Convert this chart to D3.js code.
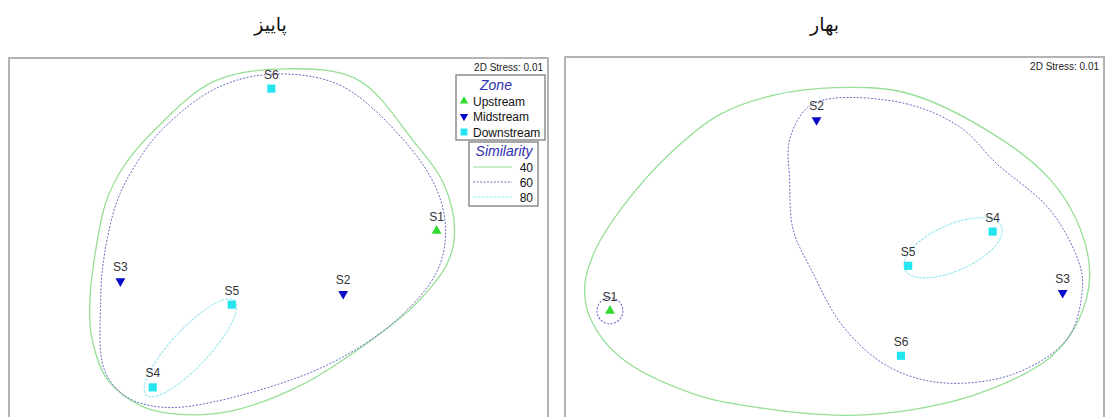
<!DOCTYPE html>
<html>
<head>
<meta charset="utf-8">
<script src="https://cdn.jsdelivr.net/npm/d3@7"></script>
<style>
  body { margin: 0; background: #fff; }
  text { font-family: Arial, "Liberation Sans", sans-serif; }
</style>
</head>
<body>
<script>
// nMDS ordination of six sites, two seasons
let sites = ["S1", "S2", "S3", "S4", "S5", "S6"];
let siteZones = ["Upstream", "Midstream", "Midstream", "Downstream", "Downstream", "Downstream"];
let zoneNames = ["Upstream", "Midstream", "Downstream"];
let similarityLevels = ["40", "60", "80"];
let seasonTitles = ["پاییز", "بهار"];
let stressLabel = "2D Stress: 0.01";

// autumn (پاییز) coordinates
let autumnX = [0.88, 0.36, -0.88, -0.70, -0.26, -0.04];
let autumnY = [0.04, -0.31, -0.24, -0.83, -0.37, 0.83];
// spring (بهار) coordinates
let springX = [-1.25, -0.10, 1.27, 0.88, 0.41, 0.37];
let springY = [-0.41, 0.65, -0.31, 0.03, -0.16, -0.66];

// similarity contours
let autumn40 = [[0.04, 0.94], [0.44, 0.88], [0.75, 0.54], [0.92, 0.30], [0.98, 0.04], [0.94, -0.14],
  [0.76, -0.37], [0.54, -0.55], [0.14, -0.81], [-0.26, -0.96], [-0.55, -0.98], [-0.75, -0.94],
  [-0.95, -0.79], [-1.04, -0.55], [-1.05, -0.36], [-1.03, -0.15], [-0.96, 0.20], [-0.86, 0.40],
  [-0.69, 0.60], [-0.36, 0.87]];
let autumn60 = [[-0.04, 0.91], [0.34, 0.85], [0.70, 0.54], [0.88, 0.27], [0.93, 0.04], [0.88, -0.19],
  [0.64, -0.47], [0.24, -0.72], [-0.36, -0.91], [-0.65, -0.94], [-0.85, -0.88], [-0.97, -0.73],
  [-0.99, -0.36], [-0.97, -0.10], [-0.90, 0.20], [-0.80, 0.40], [-0.65, 0.60], [-0.35, 0.83]];
// ellipses: [cx, cy, rx, ry, angle]
let autumn80 = [[-0.49, -0.61, 0.36, 0.105, -47]];

let spring40 = [[0.01, 0.83], [0.40, 0.80], [0.87, 0.58], [1.20, 0.32], [1.37, 0.04], [1.42, -0.22],
  [1.36, -0.46], [1.20, -0.67], [0.80, -0.87], [0.36, -0.97], [0.01, -0.99], [-0.41, -0.95],
  [-0.79, -0.87], [-1.19, -0.67], [-1.36, -0.45], [-1.39, -0.27], [-1.33, -0.07], [-1.17, 0.18],
  [-0.92, 0.46], [-0.64, 0.68], [-0.33, 0.79]];
let spring60 = [[-0.01, 0.77], [0.40, 0.74], [0.70, 0.61], [0.90, 0.41], [1.20, 0.15], [1.36, -0.14],
  [1.38, -0.28], [1.30, -0.56], [1.00, -0.76], [0.60, -0.81], [0.30, -0.72], [0.05, -0.50],
  [-0.13, -0.18], [-0.23, 0.04], [-0.25, 0.32], [-0.25, 0.54], [-0.15, 0.72]];
let spring60Circles = [[-1.25, -0.41, 0.072, 0.072, 0]];
let spring80 = [[0.66, -0.06, 0.295, 0.128, -24]];

let zoneColor = { "Upstream": "#2edb2e", "Midstream": "#0a0ac8", "Downstream": "#25e6f0" };
let levelStyle = {
  "40": { stroke: "#97df97", dash: null },
  "60": { stroke: "#6b6bc4", dash: "2,1.5" },
  "80": { stroke: "#9be8ef", dash: "3,1" }
};

let width = 1105;
let height = 417;
let svg = d3.select("body").append("svg")
            .attr("width", width)
            .attr("height", height);

let panelW = 539;
let panelH = 360;

function symbolFor(zone, size) {
  if (zone === "Downstream") return d3.symbol(d3.symbolSquare, size * 1.6)();
  return d3.symbol(d3.symbolTriangle, size)();
}

function drawPanel(left, top, title, titleShift, xs, ys, c40, c60, circles60, ell80, withLegend) {
  let g = svg.append("g").attr("transform", `translate(${left},${top})`);

  let x = d3.scaleLinear().domain([-1.5, 1.5]).range([0, panelW]);
  let y = d3.scaleLinear().domain([1, -1]).range([0, panelH]);

  // title above the frame
  svg.append("text")
     .attr("x", left + panelW / 2 + titleShift)
     .attr("y", 31)
     .attr("text-anchor", "middle")
     .style("font-family", "'DejaVu Sans', sans-serif")
     .style("font-size", "19px")
     .attr("fill", "#111")
     .text(title);

  g.append("rect")
   .attr("x", 0).attr("y", 0)
   .attr("width", panelW).attr("height", panelH + 20)
   .attr("fill", "#fff")
   .attr("stroke", "#b4b4b4")
   .attr("stroke-width", 2);

  let line = d3.line()
               .x(d => x(d[0]))
               .y(d => y(d[1]))
               .curve(d3.curveCatmullRomClosed.alpha(0.5));

  g.append("path").attr("d", line(c40))
   .attr("fill", "none").attr("stroke", levelStyle["40"].stroke).attr("stroke-width", 1.3);
  g.append("path").attr("d", line(c60))
   .attr("fill", "none").attr("stroke", levelStyle["60"].stroke).attr("stroke-width", 1)
   .attr("stroke-dasharray", levelStyle["60"].dash);

  function ellipses(list, lvl) {
    g.selectAll(null).data(list).enter().append("ellipse")
     .attr("cx", d => x(d[0])).attr("cy", d => y(d[1]))
     .attr("rx", d => x(d[2]) - x(0)).attr("ry", d => x(d[3]) - x(0))
     .attr("transform", d => `rotate(${d[4]},${x(d[0])},${y(d[1])})`)
     .attr("fill", "none")
     .attr("stroke", levelStyle[lvl].stroke)
     .attr("stroke-width", 1.1)
     .attr("stroke-dasharray", levelStyle[lvl].dash);
  }
  ellipses(circles60, "60");
  ellipses(ell80, "80");

  let pts = sites.map((s, i) => ({ name: s, zone: siteZones[i], x: xs[i], y: ys[i] }));

  g.selectAll("path.pt").data(pts).enter().append("path")
   .attr("class", "pt")
   .attr("d", d => symbolFor(d.zone, 42))
   .attr("transform", d => `translate(${x(d.x)},${y(d.y)})` + (d.zone === "Midstream" ? " rotate(180)" : ""))
   .attr("fill", d => zoneColor[d.zone]);

  g.selectAll("text.lbl").data(pts).enter().append("text")
   .attr("class", "lbl")
   .attr("x", d => x(d.x))
   .attr("y", d => y(d.y) - 10)
   .attr("text-anchor", "middle")
   .style("font-size", "12px")
   .attr("fill", "#333")
   .text(d => d.name);

  g.append("text")
   .attr("x", panelW - 5).attr("y", 13)
   .attr("text-anchor", "end")
   .style("font-size", "10px")
   .attr("fill", "#222")
   .text(stressLabel);

  if (withLegend) drawLegend(g);
}

function drawLegend(g) {
  // zone box
  let zx = 447, zy = 17;
  g.append("rect").attr("x", zx).attr("y", zy).attr("width", 89).attr("height", 65)
   .attr("fill", "#fff").attr("stroke", "#8c8c8c").attr("stroke-width", 1.5);
  g.append("text").attr("x", zx + 40).attr("y", zy + 15)
   .attr("text-anchor", "middle")
   .style("font-size", "14px").style("font-style", "italic")
   .attr("fill", "#3030b0").text("Zone");
  zoneNames.forEach(function(z, i) {
    let cy = zy + 26 + i * 15.5;
    g.append("path")
     .attr("d", symbolFor(z, 30))
     .attr("transform", `translate(${zx + 8},${cy})` + (z === "Midstream" ? " rotate(180)" : ""))
     .attr("fill", zoneColor[z]);
    g.append("text").attr("x", zx + 17).attr("y", cy + 4.5)
     .style("font-size", "12px").attr("fill", "#111").text(z);
  });

  // similarity box
  let sx = 460, sy = 84;
  g.append("rect").attr("x", sx).attr("y", sy).attr("width", 69).attr("height", 64)
   .attr("fill", "#fff").attr("stroke", "#8c8c8c").attr("stroke-width", 1.5);
  g.append("text").attr("x", sx + 35).attr("y", sy + 14)
   .attr("text-anchor", "middle")
   .style("font-size", "14px").style("font-style", "italic")
   .attr("fill", "#3030b0").text("Similarity");
  similarityLevels.forEach(function(lv, i) {
    let cy = sy + 25 + i * 15;
    g.append("line")
     .attr("x1", sx + 4).attr("x2", sx + 43)
     .attr("y1", cy).attr("y2", cy)
     .attr("stroke", levelStyle[lv].stroke)
     .attr("stroke-width", 1)
     .attr("stroke-dasharray", levelStyle[lv].dash);
    g.append("text").attr("x", sx + 64).attr("y", cy + 4.5)
     .attr("text-anchor", "end")
     .style("font-size", "12px").attr("fill", "#111").text(lv);
  });
}

drawPanel(9, 58, seasonTitles[0], -8, autumnX, autumnY, autumn40, autumn60, [], autumn80, true);
drawPanel(565, 57, seasonTitles[1], -10, springX, springY, spring40, spring60, spring60Circles, spring80, false);
</script>
</body>
</html>
